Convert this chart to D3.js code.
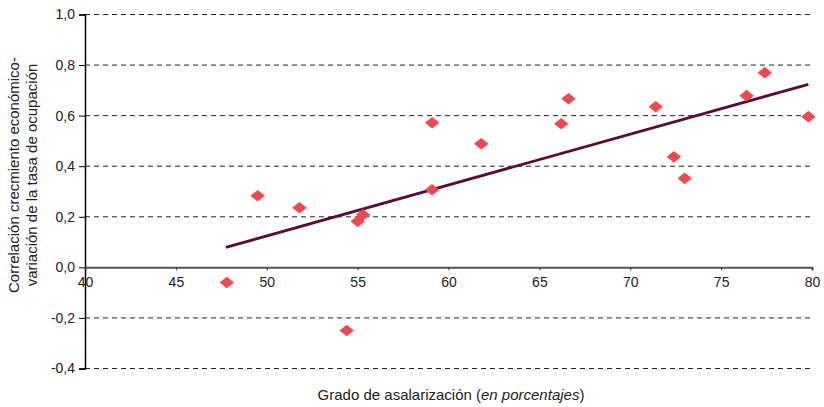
<!DOCTYPE html>
<html><head><meta charset="utf-8">
<script src="https://cdn.jsdelivr.net/npm/d3@7/dist/d3.min.js"></script>
<style>body{margin:0;background:#fff;} text{font-family:"Liberation Sans",Arial,sans-serif;}</style>
</head><body><svg id="c" width="824" height="407"></svg>
<script>
const asalarizacion = [47.8,49.5,51.8,54.4,55.0,55.3,59.1,59.1,61.8,66.2,66.6,71.4,72.4,73.0,76.4,77.4,79.8];
const correlacion  = [-0.06,0.283,0.236,-0.25,0.182,0.208,0.572,0.307,0.489,0.568,0.667,0.635,0.437,0.352,0.679,0.77,0.596];
const trendX = [47.75,79.8];
const trendY = [0.079,0.724];
const xTicks = [40,45,50,55,60,65,70,75,80];
const yTicks = [-0.4,-0.2,0,0.2,0.4,0.6,0.8,1.0];

const svg = d3.select("#c");
const x = d3.scaleLinear().domain([40,80]).range([85,812]);
const y = d3.scaleLinear().domain([-0.4,1.0]).range([368.5,14.5]);
const fmt = d => d3.format(".1f")(d).replace(".",",").replace("−","-");

// gridlines
svg.append("g").selectAll("line").data(yTicks.filter(d=>d!==0)).join("line")
  .attr("x1",85).attr("x2",812).attr("y1",d=>y(d)).attr("y2",d=>y(d))
  .attr("stroke","#222").attr("stroke-width",1).attr("stroke-dasharray","5,4");

// y axis
const ya = svg.append("g").attr("transform","translate(85,0)")
  .call(d3.axisLeft(y).tickValues(yTicks).tickFormat(fmt).tickSize(6).tickPadding(4));
ya.select(".domain").attr("stroke","#000").attr("stroke-width",1.5);
ya.selectAll(".tick line").attr("stroke","#000");
ya.selectAll("text").attr("font-size",14).attr("fill","#222").attr("font-family","Liberation Sans, Arial, sans-serif");

// x axis on zero
const xa = svg.append("g").attr("transform",`translate(0,${y(0)})`)
  .call(d3.axisBottom(x).tickValues(xTicks).tickFormat(d3.format("d")).tickSize(3).tickPadding(7));
xa.select(".domain").attr("stroke","#555").attr("stroke-width",2);
xa.selectAll(".tick line").attr("stroke","#333");
xa.selectAll("text").attr("font-size",14).attr("fill","#222").attr("font-family","Liberation Sans, Arial, sans-serif");

// trend line
svg.append("path").datum(trendX.map((d,i)=>[d,trendY[i]]))
  .attr("d", d3.line().x(d=>x(d[0])).y(d=>y(d[1])))
  .attr("stroke","#5b0b33").attr("stroke-width",2.8).attr("fill","none");

// diamonds
svg.append("g").selectAll("path").data(asalarizacion.map((d,i)=>[d,correlacion[i]])).join("path")
  .attr("transform",d=>`translate(${x(d[0])},${y(d[1])})`)
  .attr("d","M0,-5.8L7.2,0L0,5.8L-7.2,0Z")
  .attr("fill","#ef484e");

// titles
const yt = svg.append("text").attr("transform","translate(19,175) rotate(-90)")
  .attr("text-anchor","middle").attr("font-size",13).attr("fill","#222");
const l1 = yt.append("tspan").attr("x",0).attr("dy",0).text("Correlación crecmiento económico-");
yt.append("tspan").attr("x",0).attr("dy",18).text("variación de la tasa de ocupación");
const len1 = l1.node().getComputedTextLength();
if (len1 > 0) yt.attr("font-size", Math.min(15, Math.max(12, 13 * 285 / len1)));

const xt = svg.append("text").attr("x",451).attr("y",400).attr("text-anchor","middle")
  .attr("font-size",14).attr("fill","#222");
xt.append("tspan").text("Grado de asalarización (");
xt.append("tspan").attr("font-style","italic").text("en porcentajes");
xt.append("tspan").text(")");
const lenX = xt.node().getComputedTextLength();
if (lenX > 0) xt.attr("font-size", Math.min(16, Math.max(13, 14 * 267 / lenX)));
</script></body></html>
